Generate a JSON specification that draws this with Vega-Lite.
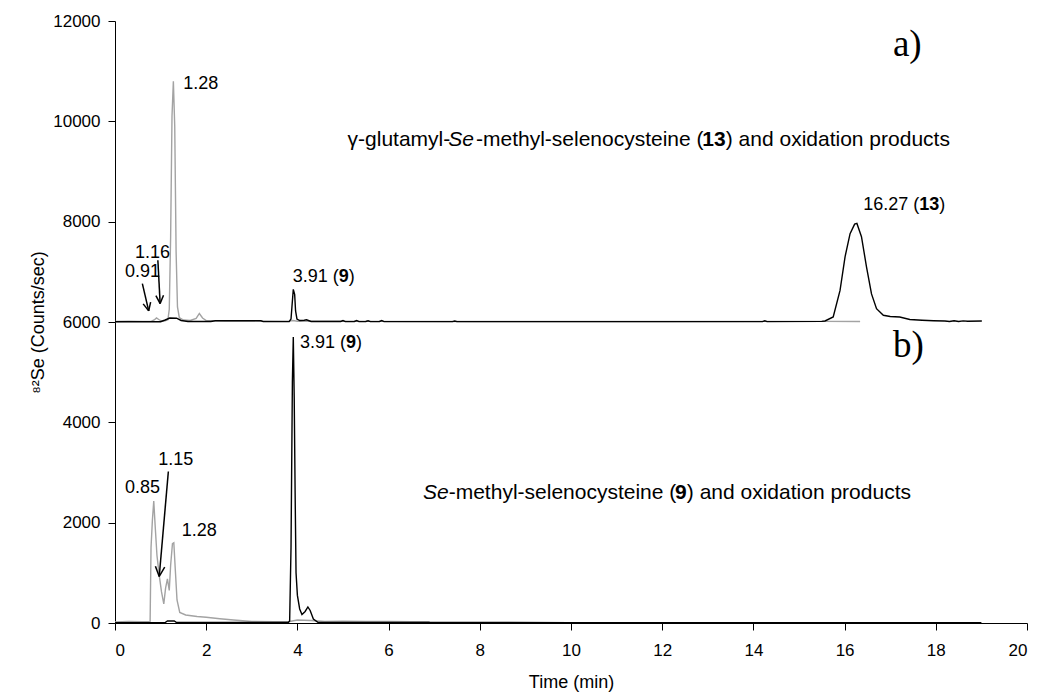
{
  "$schema": "https://vega.github.io/schema/vega-lite/v6.json",
  "autosize": "none",
  "width": 912,
  "height": 602,
  "padding": {"left": 115, "top": 21, "right": 11, "bottom": 71},
  "background": "white",
  "config": {
    "view": {"stroke": null},
    "axis": {
      "labelFont": "Liberation Sans", "labelFontSize": 17, "labelColor": "#000",
      "titleFont": "Liberation Sans", "titleFontSize": 18, "titleFontWeight": "normal", "titleColor": "#000",
      "domainColor": "#000", "tickColor": "#000", "tickSize": 7, "grid": false
    }
  },
  "datasets": {
    "traces": [
      {"s":"ag","x":0,"y":6010},{"s":"ag","x":0.3,"y":6015},{"s":"ag","x":0.6,"y":6012},{"s":"ag","x":0.8,"y":6015},{"s":"ag","x":0.86,"y":6040},{"s":"ag","x":0.91,"y":6080},{"s":"ag","x":0.96,"y":6050},{"s":"ag","x":1.02,"y":6020},{"s":"ag","x":1.1,"y":6025},{"s":"ag","x":1.16,"y":6045},{"s":"ag","x":1.19,"y":6250},{"s":"ag","x":1.22,"y":7700},{"s":"ag","x":1.25,"y":10100},{"s":"ag","x":1.28,"y":10800},{"s":"ag","x":1.31,"y":9900},{"s":"ag","x":1.34,"y":7400},{"s":"ag","x":1.37,"y":6300},{"s":"ag","x":1.41,"y":6090},{"s":"ag","x":1.5,"y":6040},{"s":"ag","x":1.65,"y":6030},{"s":"ag","x":1.78,"y":6070},{"s":"ag","x":1.85,"y":6170},{"s":"ag","x":1.92,"y":6080},{"s":"ag","x":2.0,"y":6030},{"s":"ag","x":2.4,"y":6020},{"s":"ag","x":2.8,"y":6025},{"s":"ag","x":3.2,"y":6020},{"s":"ag","x":3.8,"y":6015},{"s":"ag","x":3.9,"y":6030},{"s":"ag","x":4.0,"y":6015},{"s":"ag","x":5,"y":6015},{"s":"ag","x":6,"y":6012},{"s":"ag","x":8,"y":6010},{"s":"ag","x":10,"y":6010},{"s":"ag","x":12,"y":6010},{"s":"ag","x":14,"y":6012},{"s":"ag","x":15.5,"y":6012},{"s":"ag","x":16.34,"y":6010},
      {"s":"ab","x":0,"y":6005},{"s":"ab","x":1.0,"y":6005},{"s":"ab","x":1.1,"y":6040},{"s":"ab","x":1.2,"y":6080},{"s":"ab","x":1.35,"y":6075},{"s":"ab","x":1.45,"y":6030},{"s":"ab","x":1.6,"y":6010},{"s":"ab","x":2.1,"y":6010},{"s":"ab","x":2.2,"y":6025},{"s":"ab","x":3.2,"y":6025},{"s":"ab","x":3.25,"y":6008},{"s":"ab","x":3.82,"y":6008},{"s":"ab","x":3.86,"y":6060},{"s":"ab","x":3.88,"y":6300},{"s":"ab","x":3.91,"y":6650},{"s":"ab","x":3.94,"y":6550},{"s":"ab","x":3.96,"y":6220},{"s":"ab","x":3.99,"y":6060},{"s":"ab","x":4.05,"y":6030},{"s":"ab","x":4.15,"y":6035},{"s":"ab","x":4.2,"y":6045},{"s":"ab","x":4.3,"y":6010},{"s":"ab","x":4.95,"y":6010},{"s":"ab","x":5.0,"y":6030},{"s":"ab","x":5.05,"y":6008},{"s":"ab","x":5.25,"y":6010},{"s":"ab","x":5.3,"y":6028},{"s":"ab","x":5.35,"y":6008},{"s":"ab","x":5.5,"y":6010},{"s":"ab","x":5.55,"y":6025},{"s":"ab","x":5.6,"y":6008},{"s":"ab","x":5.8,"y":6010},{"s":"ab","x":5.85,"y":6030},{"s":"ab","x":5.9,"y":6008},{"s":"ab","x":7.4,"y":6008},{"s":"ab","x":7.45,"y":6020},{"s":"ab","x":7.5,"y":6008},{"s":"ab","x":14.2,"y":6008},{"s":"ab","x":14.25,"y":6025},{"s":"ab","x":14.3,"y":6008},{"s":"ab","x":15.5,"y":6012},{"s":"ab","x":15.57,"y":6020},{"s":"ab","x":15.75,"y":6100},{"s":"ab","x":15.9,"y":6630},{"s":"ab","x":16.01,"y":7300},{"s":"ab","x":16.12,"y":7760},{"s":"ab","x":16.22,"y":7950},{"s":"ab","x":16.27,"y":7965},{"s":"ab","x":16.37,"y":7700},{"s":"ab","x":16.48,"y":7100},{"s":"ab","x":16.59,"y":6560},{"s":"ab","x":16.7,"y":6265},{"s":"ab","x":16.85,"y":6135},{"s":"ab","x":17.0,"y":6110},{"s":"ab","x":17.21,"y":6100},{"s":"ab","x":17.43,"y":6050},{"s":"ab","x":17.7,"y":6035},{"s":"ab","x":17.95,"y":6025},{"s":"ab","x":18.2,"y":6020},{"s":"ab","x":18.3,"y":6010},{"s":"ab","x":18.4,"y":6025},{"s":"ab","x":18.5,"y":6010},{"s":"ab","x":18.6,"y":6022},{"s":"ab","x":18.7,"y":6015},{"s":"ab","x":19.01,"y":6020},
      {"s":"bg","x":0,"y":20},{"s":"bg","x":0.3,"y":30},{"s":"bg","x":0.6,"y":25},{"s":"bg","x":0.77,"y":30},{"s":"bg","x":0.79,"y":1500},{"s":"bg","x":0.82,"y":2050},{"s":"bg","x":0.85,"y":2430},{"s":"bg","x":0.88,"y":1950},{"s":"bg","x":0.92,"y":1350},{"s":"bg","x":0.97,"y":950},{"s":"bg","x":1.02,"y":620},{"s":"bg","x":1.07,"y":380},{"s":"bg","x":1.11,"y":700},{"s":"bg","x":1.15,"y":880},{"s":"bg","x":1.19,"y":650},{"s":"bg","x":1.22,"y":1150},{"s":"bg","x":1.26,"y":1580},{"s":"bg","x":1.29,"y":1600},{"s":"bg","x":1.32,"y":1100},{"s":"bg","x":1.36,"y":460},{"s":"bg","x":1.42,"y":210},{"s":"bg","x":1.55,"y":160},{"s":"bg","x":1.8,"y":130},{"s":"bg","x":2.0,"y":115},{"s":"bg","x":2.3,"y":85},{"s":"bg","x":2.6,"y":60},{"s":"bg","x":2.8,"y":45},{"s":"bg","x":3.0,"y":30},{"s":"bg","x":3.5,"y":25},{"s":"bg","x":3.8,"y":25},{"s":"bg","x":4.0,"y":60},{"s":"bg","x":4.3,"y":50},{"s":"bg","x":4.6,"y":30},{"s":"bg","x":5,"y":35},{"s":"bg","x":5.5,"y":30},{"s":"bg","x":6,"y":30},{"s":"bg","x":6.5,"y":25},{"s":"bg","x":6.9,"y":25},
      {"s":"bb","x":0,"y":8},{"s":"bb","x":1.1,"y":10},{"s":"bb","x":1.15,"y":40},{"s":"bb","x":1.3,"y":40},{"s":"bb","x":1.35,"y":10},{"s":"bb","x":3.8,"y":10},{"s":"bb","x":3.83,"y":40},{"s":"bb","x":3.86,"y":1500},{"s":"bb","x":3.89,"y":4800},{"s":"bb","x":3.91,"y":5700},{"s":"bb","x":3.93,"y":4500},{"s":"bb","x":3.95,"y":2600},{"s":"bb","x":3.97,"y":1000},{"s":"bb","x":4.0,"y":550},{"s":"bb","x":4.05,"y":280},{"s":"bb","x":4.1,"y":170},{"s":"bb","x":4.17,"y":230},{"s":"bb","x":4.23,"y":320},{"s":"bb","x":4.28,"y":250},{"s":"bb","x":4.35,"y":80},{"s":"bb","x":4.45,"y":15},{"s":"bb","x":6,"y":10},{"s":"bb","x":10,"y":8},{"s":"bb","x":14,"y":8},{"s":"bb","x":19,"y":8}
    ],
    "arrows": [
      {"x":0.60,"y":6765,"x2":0.739,"y2":6221},{"x":0.781,"y":6396,"x2":0.739,"y2":6221},{"x":0.618,"y":6362,"x2":0.739,"y2":6221},
      {"x":0.94,"y":7230,"x2":0.99,"y2":6367},{"x":1.064,"y":6532,"x2":0.99,"y2":6367},{"x":0.897,"y":6526,"x2":0.99,"y2":6367},
      {"x":1.17,"y":3020,"x2":0.97,"y2":927},{"x":1.09,"y":1116,"x2":0.97,"y2":927},{"x":0.886,"y":1132,"x2":0.97,"y2":927}
    ],
    "labels_normal": [
      {"x":1.498,"y":10743,"text":"1.28"},
      {"x":0.219,"y":7002,"text":"0.91"},
      {"x":0.439,"y":7369,"text":"1.16"},
      {"x":3.897,"y":6902,"text":"3.91 ("},
      {"x":5.125,"y":6902,"text":")"},
      {"x":16.41,"y":8332,"text":"16.27 ("},
      {"x":18.077,"y":8332,"text":")"},
      {"x":4.057,"y":5575,"text":"3.91 ("},
      {"x":5.285,"y":5575,"text":")"},
      {"x":0.219,"y":2685,"text":"0.85"},
      {"x":0.95,"y":3249,"text":"1.15"},
      {"x":1.463,"y":1840,"text":"1.28"}
    ],
    "labels_bold": [
      {"x":4.906,"y":6902,"text":"9"},
      {"x":17.638,"y":8332,"text":"13"},
      {"x":5.066,"y":5575,"text":"9"}
    ],
    "caption_normal": [
      {"x":5.1,"y":9627,"text":"γ-glutamyl-"},
      {"x":7.916,"y":9627,"text":" -methyl-selenocysteine ("},
      {"x":13.394,"y":9627,"text":") and oxidation products"},
      {"x":7.318,"y":2591,"text":" -methyl-selenocysteine ("},
      {"x":12.54,"y":2591,"text":") and oxidation products"}
    ],
    "caption_bold": [
      {"x":12.881,"y":9627,"text":"13"},
      {"x":12.283,"y":2591,"text":"9"}
    ],
    "caption_italic": [
      {"x":7.306,"y":9627,"text":"Se"},
      {"x":6.754,"y":2591,"text":"Se"}
    ],
    "panels": [
      {"x":17.06,"y":11521,"text":"a)"},
      {"x":17.06,"y":5520,"text":"b)"}
    ]
  },
  "encoding": {
    "x": {"field":"x","type":"quantitative","scale":{"domain":[0,20],"nice":false,"zero":false},
          "axis":{"title":"Time (min)","values":[0,2,4,6,8,10,12,14,16,18,20],"labelPadding":12,"titlePadding":15}},
    "y": {"field":"y","type":"quantitative","scale":{"domain":[0,12000],"nice":false},
          "axis":{"title":"⁸²Se (Counts/sec)","format":"d","values":[0,2000,4000,6000,8000,10000,12000],"labelPadding":8,"titlePadding":5}}
  },
  "layer": [
    {
      "data": {"name":"traces"},
      "mark": {"type":"line","strokeWidth":1.4,"interpolate":"linear"},
      "encoding": {
        "color": {"field":"s","type":"nominal","scale":{"domain":["ag","bg","ab","bb"],"range":["#a3a3a3","#a3a3a3","#000000","#000000"]},"legend":null},
        "detail": {"field":"s"},
        "order": {"field":"x","type":"quantitative"}
      }
    },
    {
      "data": {"name":"arrows"},
      "mark": {"type":"rule","color":"#000","strokeWidth":1.5},
      "encoding": {
        "x2": {"field":"x2"},
        "y2": {"field":"y2"}
      }
    },
    {
      "data": {"name":"labels_normal"},
      "mark": {"type":"text","font":"Liberation Sans","fontSize":18,"align":"left","baseline":"middle","color":"#000"},
      "encoding": {"text": {"field":"text"}}
    },
    {
      "data": {"name":"labels_bold"},
      "mark": {"type":"text","font":"Liberation Sans","fontSize":18,"fontWeight":"bold","align":"left","baseline":"middle","color":"#000"},
      "encoding": {"text": {"field":"text"}}
    },
    {
      "data": {"name":"caption_normal"},
      "mark": {"type":"text","font":"Liberation Sans","fontSize":21,"align":"left","baseline":"middle","color":"#000"},
      "encoding": {"text": {"field":"text"}}
    },
    {
      "data": {"name":"caption_bold"},
      "mark": {"type":"text","font":"Liberation Sans","fontSize":21,"fontWeight":"bold","align":"left","baseline":"middle","color":"#000"},
      "encoding": {"text": {"field":"text"}}
    },
    {
      "data": {"name":"caption_italic"},
      "mark": {"type":"text","font":"Liberation Sans","fontSize":21,"fontStyle":"italic","align":"left","baseline":"middle","color":"#000"},
      "encoding": {"text": {"field":"text"}}
    },
    {
      "data": {"name":"panels"},
      "mark": {"type":"text","font":"Liberation Serif","fontSize":37,"align":"left","baseline":"middle","color":"#000"},
      "encoding": {"text": {"field":"text"}}
    }
  ]
}
